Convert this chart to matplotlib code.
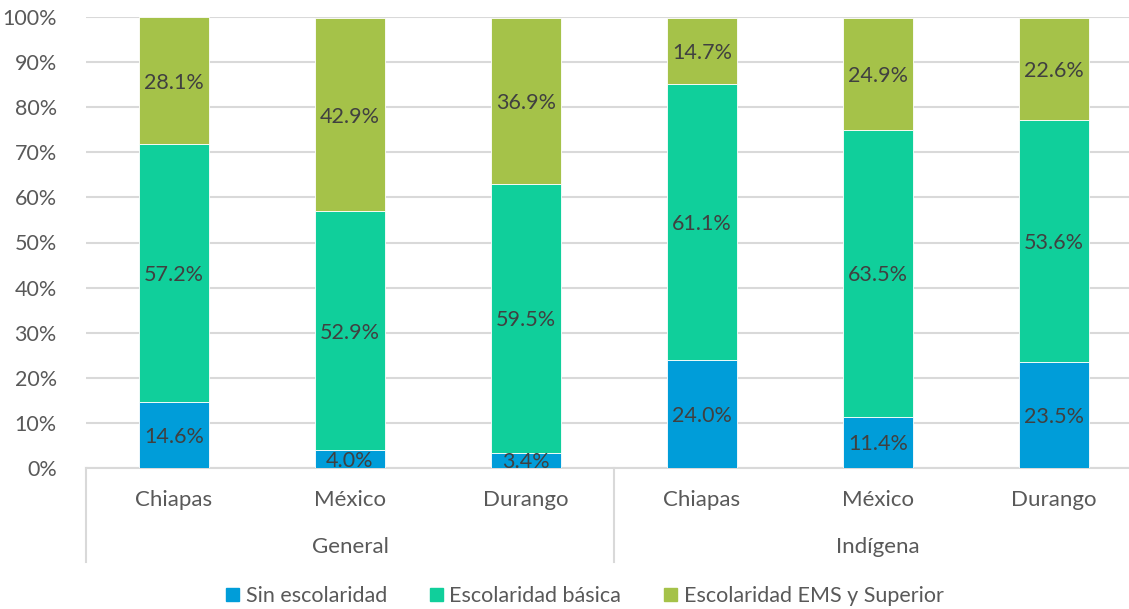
import numpy as np
import matplotlib
matplotlib.use("Agg")
import matplotlib.pyplot as plt
import matplotlib.patches as mpatches
from matplotlib.lines import Line2D

plt.rcParams["font.family"] = ["Lato", "DejaVu Sans"]

states = ["Chiapas", "México", "Durango", "Chiapas", "México", "Durango"]
groups = ["General", "Indígena"]
series_names = ["Sin escolaridad", "Escolaridad básica", "Escolaridad EMS y Superior"]

sin_escolaridad = [14.6, 4.0, 3.4, 24.0, 11.4, 23.5]
escolaridad_basica = [57.2, 52.9, 59.5, 61.1, 63.5, 53.6]
escolaridad_ems = [28.1, 42.9, 36.9, 14.7, 24.9, 22.6]

colors = ["#009DD9", "#10CF9B", "#A5C249"]
W, H = 1129, 609
FS = 15.5

fig = plt.figure(figsize=(W / 100, H / 100), dpi=100)
ax = fig.add_axes([86 / W, (H - 468) / H, 1056 / W, 451 / H])

x = np.arange(len(states))
bottom = np.zeros(len(states))
for vals, color in zip([sin_escolaridad, escolaridad_basica, escolaridad_ems], colors):
    vals = np.array(vals)
    ax.bar(x, vals, width=0.4, bottom=bottom, color=color,
           edgecolor="white", linewidth=0.6, zorder=3)
    for xi, b, v in zip(x, bottom, vals):
        ax.text(xi, b + v / 2, f"{v:.1f}%", ha="center", va="center_baseline",
                fontsize=FS, color="#404040", zorder=4)
    bottom += vals

ax.set_xlim(-0.5, len(states) - 0.5)
ax.set_ylim(0, 100)
ax.set_yticks(np.arange(0, 101, 10))
ax.set_yticklabels([f"{t}%" for t in range(0, 101, 10)])
ax.tick_params(axis="y", length=0, labelsize=FS, labelcolor="#595959", pad=21)
ax.set_xticks([])
ax.grid(axis="y", color="#D9D9D9", linewidth=1.5, zorder=0)
for s in ["top", "right", "left"]:
    ax.spines[s].set_visible(False)
ax.spines["bottom"].set_color("#D9D9D9")
ax.spines["bottom"].set_linewidth(1.5)

# two-level category axis
trans = ax.get_xaxis_transform()
for xi, name in zip(x, states):
    ax.text(xi, -32 / 451, name, transform=trans, ha="center", va="center",
            fontsize=FS + 0.5, color="#595959")
for gi, g in enumerate(groups):
    ax.text(gi * 3 + 1, -79 / 451, g, transform=trans, ha="center", va="center",
            fontsize=FS + 0.5, color="#595959")
for sep in [-0.5, 2.5]:
    ax.add_line(Line2D([sep, sep], [0, -94 / 451], transform=trans,
                       color="#D9D9D9", linewidth=1.5, clip_on=False))

handles = [mpatches.Patch(color=c, label=n) for c, n in zip(colors, series_names)]
fig.legend(handles=handles, loc="center", bbox_to_anchor=(585 / W, 1 - 596 / H),
           ncol=3, frameon=False, fontsize=FS, labelcolor="#595959",
           handlelength=0.6, handleheight=0.6, handletextpad=0.3,
           columnspacing=2.0)

fig.savefig("out.png", dpi=100)
